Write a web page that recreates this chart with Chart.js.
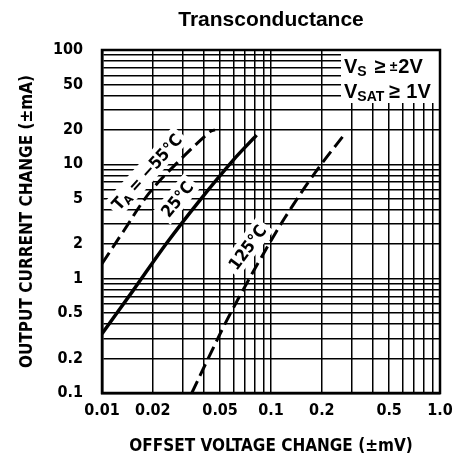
<!DOCTYPE html>
<html>
<head>
<meta charset="utf-8">
<script src="https://cdn.jsdelivr.net/npm/chart.js@4/dist/chart.umd.min.js"></script>
<style>
html,body{margin:0;padding:0;background:#fff;}
#wrap{width:461px;height:468px;position:relative;}
</style>
</head>
<body>
<div id="wrap"><canvas id="c" width="461" height="468"></canvas></div>
<script>
// ---------- data ----------
const chartTitle = 'Transconductance';
const xAxisTitle = 'OFFSET VOLTAGE CHANGE (±mV)';
const yAxisTitle = 'OUTPUT CURRENT CHANGE (±mA)';

const xTickValues = [0.01, 0.02, 0.05, 0.1, 0.2, 0.5, 1];
const xTickLabels = ['0.01', '0.02', '0.05', '0.1', '0.2', '0.5', '1.0'];
const yTickValues = [0.1, 0.2, 0.5, 1, 2, 5, 10, 20, 50, 100];
const yTickLabels = ['0.1', '0.2', '0.5', '1', '2', '5', '10', '20', '50', '100'];

const xGridValues = [0.01,0.02,0.03,0.04,0.05,0.06,0.07,0.08,0.09,
                     0.1,0.2,0.3,0.4,0.5,0.6,0.7,0.8,0.9,1];
const yGridValues = [0.1,0.2,0.3,0.4,0.5,0.6,0.7,0.8,0.9,
                     1,2,3,4,5,6,7,8,9,
                     10,20,30,40,50,60,70,80,90,100];

// T_A = -55°C (dashed)
const xMinus55 = [0.01, 0.0134, 0.019, 0.028, 0.0436, 0.0466];
const yMinus55 = [1.35, 2.6, 5.6, 10.4, 19.3, 20];
// 25°C (solid)
const x25 = [0.01, 0.0153, 0.0241, 0.038, 0.0598, 0.0822];
const y25 = [0.33, 0.79, 2.04, 4.87, 10.9, 18.0];
// 125°C (dashed)
const x125 = [0.034, 0.0428, 0.0538, 0.0678, 0.0853, 0.107, 0.135, 0.17, 0.214, 0.274];
const y125 = [0.1, 0.205, 0.41, 0.78, 1.43, 2.55, 4.4, 7.3, 11.6, 18.5];

// ---------- helpers ----------
const COND = '"DejaVu Sans Condensed", "Liberation Sans Narrow", sans-serif';
const ARIAL = '"Liberation Sans", Arial, Helvetica, sans-serif';

function pts(xs, ys) { return xs.map((v, i) => ({x: v, y: ys[i]})); }
function labelFor(v, vals, labs) {
  for (let i = 0; i < vals.length; i++) {
    if (Math.abs(Math.log10(v) - Math.log10(vals[i])) < 1e-6) return labs[i];
  }
  return '';
}
function runsWidth(ctx, runs) {
  let w = 0;
  runs.forEach(r => { ctx.font = r.font; w += (r.gap || 0) + ctx.measureText(r.t).width; });
  return w;
}
function drawRuns(ctx, runs, x, y) {
  let cx = x;
  runs.forEach(r => {
    cx += (r.gap || 0);
    ctx.font = r.font;
    ctx.fillText(r.t, cx, y + (r.dy || 0));
    cx += ctx.measureText(r.t).width;
  });
}

// curve labels (anchor in data coordinates, angle in degrees)
const curveLabels = [
  {x: 0.0184, y: 8.6, angle: -48,
   runs: [{t: 'T', font: 'bold 17px ' + COND},
          {t: 'A', font: 'bold 12px ' + COND, dy: 3},
          {t: ' = −55°C', font: 'bold 17px ' + COND}]},
  {x: 0.0278, y: 4.97, angle: -51,
   runs: [{t: '25°C', font: 'bold 17px ' + COND}]},
  {x: 0.0724, y: 1.88, angle: -53,
   runs: [{t: '125°C', font: 'bold 17px ' + COND}]}
];

const legendLines = [
  [{t: 'V', font: 'bold 20px ' + ARIAL},
   {t: 'S', font: 'bold 14px ' + ARIAL, dy: 3},
   {t: '≥', font: 'bold 20px ' + ARIAL, gap: 8},
   {t: '±', font: 'bold 14px ' + ARIAL, dy: -2, gap: 4},
   {t: '2V', font: 'bold 20px ' + ARIAL, gap: 1}],
  [{t: 'V', font: 'bold 20px ' + ARIAL},
   {t: 'SAT', font: 'bold 14px ' + ARIAL, dy: 3},
   {t: '≥', font: 'bold 20px ' + ARIAL, gap: 5},
   {t: '1V', font: 'bold 20px ' + ARIAL, gap: 6}]
];

const annotPlugin = {
  id: 'annot',
  beforeDatasetsDraw(chart) {
    const {ctx, chartArea: a, scales: {x, y}} = chart;
    ctx.save();
    ctx.textBaseline = 'alphabetic';
    ctx.textAlign = 'left';

    // legend box (white, covering grid)
    const bx = a.right - 99, by = a.top, bw = 99, bh = 53;
    ctx.fillStyle = '#fff';
    ctx.fillRect(bx, by, bw, bh);
    ctx.fillStyle = '#000';
    drawRuns(ctx, legendLines[0], bx + 3, by + 23);
    drawRuns(ctx, legendLines[1], bx + 3, by + 48);

    // curve labels with white backgrounds
    curveLabels.forEach(l => {
      const px = x.getPixelForValue(l.x), py = y.getPixelForValue(l.y);
      const w = runsWidth(ctx, l.runs);
      ctx.save();
      ctx.translate(px, py);
      ctx.rotate(l.angle * Math.PI / 180);
      ctx.fillStyle = '#fff';
      ctx.fillRect(-w / 2 - 4, -11, w + 8, 22);
      ctx.fillStyle = '#000';
      drawRuns(ctx, l.runs, -w / 2, 6);
      ctx.restore();
    });

    // plot border
    ctx.strokeStyle = '#000';
    ctx.lineWidth = 2.5;
    ctx.strokeRect(a.left, a.top, a.right - a.left, a.bottom - a.top);
    ctx.restore();
  },
  afterDraw(chart) {
    const {ctx, chartArea: a} = chart;
    ctx.save();
    ctx.fillStyle = '#000';
    ctx.font = 'bold 21px ' + ARIAL;
    ctx.textAlign = 'center';
    ctx.textBaseline = 'alphabetic';
    ctx.fillText(chartTitle, (a.left + a.right) / 2, 26);
    ctx.restore();
  }
};

const tickFont = {family: COND, size: 16, weight: 'bold'};
const titleFont = {family: COND, size: 17, weight: 'bold'};

new Chart(document.getElementById('c'), {
  type: 'scatter',
  data: {
    datasets: [
      {label: 'TA = −55°C', data: pts(xMinus55, yMinus55), showLine: true,
       borderColor: '#000', borderWidth: 3, borderDash: [13, 6], pointRadius: 0,
       tension: 0.35, fill: false},
      {label: '25°C', data: pts(x25, y25), showLine: true,
       borderColor: '#000', borderWidth: 3.5, pointRadius: 0, tension: 0.35, fill: false},
      {label: '125°C', data: pts(x125, y125), showLine: true,
       borderColor: '#000', borderWidth: 3, borderDash: [13, 6], pointRadius: 0,
       tension: 0.35, fill: false}
    ]
  },
  options: {
    responsive: false,
    animation: false,
    devicePixelRatio: 1,
    layout: {padding: {left: 0, right: 21, top: 50, bottom: 0}},
    plugins: {legend: {display: false}, tooltip: {enabled: false}, title: {display: false}},
    scales: {
      x: {
        type: 'logarithmic', position: 'bottom', min: 0.01, max: 1,
        afterBuildTicks: s => { s.ticks = xGridValues.map(v => ({value: v})); },
        afterFit: s => { s.height = 75; },
        grid: {color: '#000', lineWidth: 1.5, drawTicks: false},
        border: {display: true, color: '#000', width: 2.5},
        ticks: {autoSkip: false, maxRotation: 0, minRotation: 0, padding: 8, color: '#000',
                font: tickFont, callback: v => labelFor(v, xTickValues, xTickLabels)},
        title: {display: true, text: xAxisTitle, color: '#000', font: titleFont,
                padding: {top: 0, bottom: 11}}
      },
      y: {
        type: 'logarithmic', position: 'left', min: 0.1, max: 100,
        afterBuildTicks: s => { s.ticks = yGridValues.map(v => ({value: v})); },
        afterFit: s => { s.width = 102; },
        grid: {color: '#000', lineWidth: 1.5, drawTicks: false},
        border: {display: true, color: '#000', width: 2.5},
        ticks: {autoSkip: false, padding: 19, color: '#000',
                font: tickFont, callback: v => labelFor(v, yTickValues, yTickLabels)},
        title: {display: true, text: yAxisTitle, color: '#000', font: titleFont,
                padding: {top: 17, bottom: 0}}
      }
    }
  },
  plugins: [annotPlugin]
});
</script>
</body>
</html>
